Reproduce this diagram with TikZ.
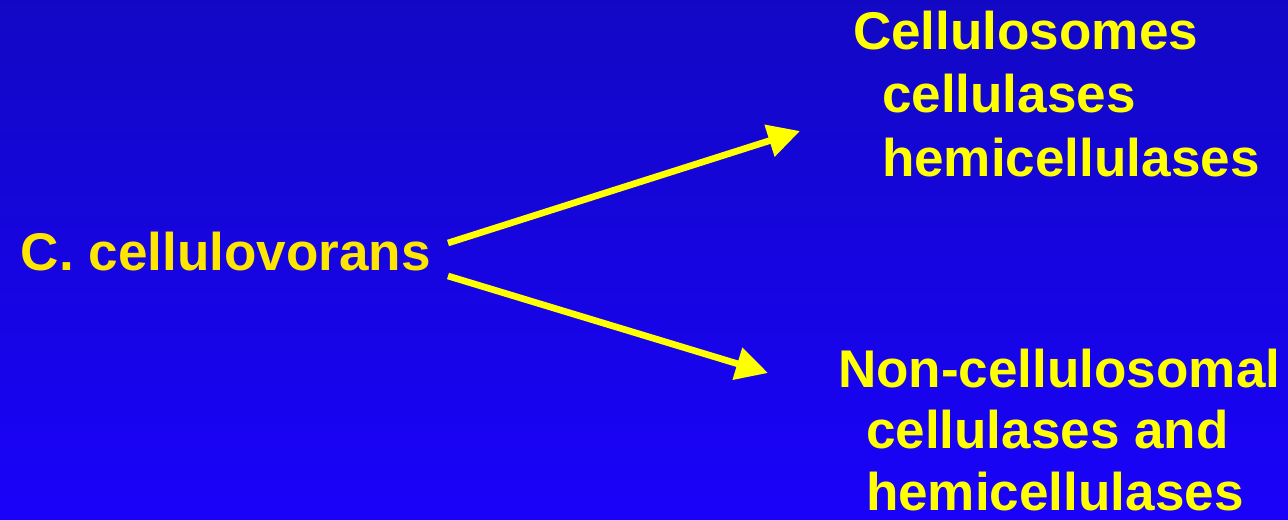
\documentclass[tikz,border=0pt]{standalone}
\usepackage{fontspec}
\setmainfont{Liberation Sans}
\usetikzlibrary{arrows.meta}
\definecolor{bgtop}{RGB}{18,8,196}
\definecolor{bgbot}{RGB}{26,2,250}
\definecolor{lbl}{RGB}{255,255,0}
\definecolor{srclbl}{RGB}{255,230,0}
\begin{document}
\begin{tikzpicture}[x=0.75pt,y=-0.75pt,
  lab/.style={anchor=base west,inner sep=0pt,outer sep=0pt,text=lbl,font=\fontsize{39.8pt}{47pt}\bfseries},
  conn/.style={draw=lbl,line width=5pt,-{Triangle[length=24pt,width=24pt]}}]
\shade[top color=bgtop,bottom color=bgbot] (0,0) rectangle (1288,520);
\useasboundingbox (0,0) rectangle (1288,520);
\node[lab,text=srclbl] (src) at (21,271) {C. cellulovorans};
\node[lab] (t1) at (853,50) {Cellulosomes};
\node[lab] (t2) at (882,113) {cellulases};
\node[lab] (t3) at (882,177) {hemicellulases};
\node[lab] (b1) at (838,387) {Non-cellulosomal};
\node[lab] (b2) at (866,448) {cellulases and};
\node[lab] (b3) at (866,510) {hemicellulases};
\coordinate (s1) at (448,243);
\coordinate (e1) at (800,131);
\coordinate (s2) at (448,276);
\coordinate (e2) at (768,373);
\draw[conn] (s1) -- (e1);
\draw[conn] (s2) -- (e2);
\end{tikzpicture}
\end{document}
